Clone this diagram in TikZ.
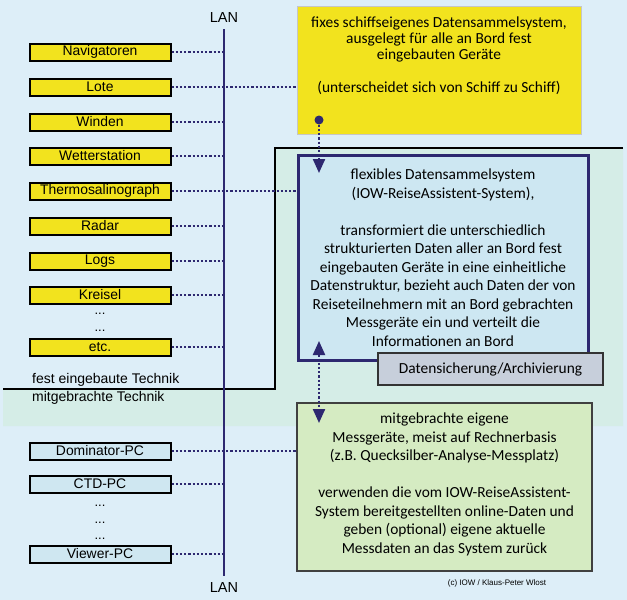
\documentclass[tikz,border=0pt]{standalone}
\usepackage{fontspec}
\setmainfont{Carlito}
\setsansfont{Liberation Sans}
\usetikzlibrary{arrows.meta,positioning,calc}

\definecolor{pagebg}{HTML}{DDEEF8}
\definecolor{tintbg}{HTML}{D5EDE7}
\definecolor{devyellow}{HTML}{F2E31E}
\definecolor{pcblue}{HTML}{CFE7F1}
\definecolor{lannavy}{HTML}{2D2870}
\definecolor{flexblue}{HTML}{CDE7F2}
\definecolor{mobgreen}{HTML}{D5EBC2}
\definecolor{archgrey}{HTML}{C7CFDB}

\begin{document}
\begin{tikzpicture}[x=1pt, y=-1pt,
  device/.style={draw=black, line width=2pt, fill=devyellow, minimum width=141pt, minimum height=17pt, inner sep=0pt, font=\sffamily\fontsize{13.9}{13.9}\selectfont},
  pc/.style={device, fill=pcblue},
  morelbl/.style={inner sep=0pt, font=\sffamily\fontsize{13}{13}\selectfont},
  sidelbl/.style={anchor=west, inner sep=0pt, font=\sffamily\fontsize{14}{14}\selectfont},
  lanlbl/.style={inner sep=0pt, font=\sffamily\fontsize{14.5}{14.5}\selectfont},
  infobox/.style={align=center, inner sep=0pt, font=\fontsize{15.4}{18.5}\selectfont},
  lanlink/.style={lannavy, line width=2.2pt, dash pattern=on 2.2pt off 2pt},
  toflex/.style={-{Triangle[length=14pt, width=12pt]}},
  bothways/.style={{Triangle[length=14pt, width=12pt]}-{Triangle[length=14pt, width=12pt]}}
]
  \useasboundingbox (0,0) rectangle (627,600);
  \fill[pagebg] (0,0) rectangle (627,600);
  % zone of the data collecting systems
  \fill[tintbg] (3,389) -- (275,389) -- (275,148) -- (623,148) -- (623,426) -- (3,426) -- cycle;
  \draw[line width=2.2pt] (3,389) -- (275,389) -- (275,148) -- (623,148);
  \node[sidelbl] (festlbl) at (32,380) {fest eingebaute Technik};
  \node[sidelbl] (mitlbl) at (32,398) {mitgebrachte Technik};

  % LAN backbone
  \node[lanlbl] (lanTop) at (224,18) {LAN};
  \node[lanlbl] (lanBot) at (224,588) {LAN};
  \draw[lannavy, line width=2.5pt, shorten <=6pt, shorten >=7pt] (lanTop.south) -- (lanBot.north);

  % built-in devices
  \foreach \y/\id/\txt in {52/nav/Navigatoren, 87/lote/Lote, 122/winden/Winden, 156/wetter/Wetterstation,
      191/thermo/Thermosalinograph, 226/radar/Radar, 261/logs/Logs, 295/kreisel/Kreisel, 347/etc/etc.}
    \node[device] (\id) at (100,\y) {\txt};
  \foreach \id in {nav, winden, wetter, radar, logs, kreisel, etc}
    \draw[lanlink] (\id.east) -- (\id.east -| lanTop);
  \node[morelbl] (moreA) at (100,314) {...};
  \node[morelbl] (moreB) at (100,331) {...};

  % brought-along devices
  \foreach \y/\id/\txt in {451/dom/Dominator-PC, 484/ctd/CTD-PC, 554/viewer/Viewer-PC}
    \node[pc] (\id) at (100,\y) {\txt};
  \foreach \id in {ctd, viewer}
    \draw[lanlink] (\id.east) -- (\id.east -| lanTop);
  \foreach \y/\id in {506/moreC, 523/moreD, 539/moreE}
    \node[morelbl] (\id) at (100,\y) {...};

  % right-hand boxes
  \node[draw=gray!45, line width=0.6pt, fill=devyellow, minimum width=284pt, minimum height=128pt] (fixbox) at (439,70) {};
  \node[infobox, font=\fontsize{15.4}{16}\selectfont, anchor=north] (fixtxt) at (439,17)
    {fixes schiffseigenes Datensammelsystem,\\ausgelegt für alle an Bord fest\\eingebauten Geräte\\[17pt](unterscheidet sich von Schiff zu Schiff)};

  \node[infobox, draw=lannavy, line width=3pt, fill=flexblue, minimum width=290pt, minimum height=205pt] (flexbox) at (443,257.5)
    {flexibles Datensammelsystem\\(IOW-ReiseAssistent-System),\\[18.5pt]transformiert die unterschiedlich\\strukturierten Daten aller an Bord fest\\eingebauten Geräte in eine einheitliche\\Datenstruktur, bezieht auch Daten der von\\Reiseteilnehmern mit an Bord gebrachten\\Messgeräte ein und verteilt die\\Informationen an Bord};
  \node[infobox, draw=black!80, line width=1.2pt, fill=archgrey, minimum width=225pt, minimum height=32pt] (archbox) at (490.5,369)
    {Datensicherung/Archivierung};

  \node[infobox, draw=black!75, line width=1.2pt, fill=mobgreen, minimum width=295pt, minimum height=168pt] (mobbox) at (444.5,487) {};
  \node[infobox, anchor=north] (mobtxt) at (444.5,413)
    {mitgebrachte eigene\\Messgeräte, meist auf Rechnerbasis\\(z.B. Quecksilber-Analyse-Messplatz)\\[18.5pt]verwenden die vom IOW-ReiseAssistent-\\System bereitgestellten online-Daten und\\geben (optional) eigene aktuelle\\Messdaten an das System zurück};

  % links into the boxes
  \draw[lanlink] (lote.east) -- (lote.east -| fixbox.west);
  \draw[lanlink] (thermo.east) -- (thermo.east -| flexbox.west);
  \draw[lanlink] (dom.east) -- (dom.east -| mobbox.west);

  \node[circle, fill=lannavy, inner sep=0pt, minimum size=9pt] (fixdot) at (319,120) {};
  \coordinate (flexin) at (319,173);
  \coordinate (flexout) at (319,341);
  \coordinate (mobin) at (319,423);
  \draw[lanlink, toflex] (fixdot) -- (flexin);
  \draw[lanlink, bothways] (flexout) -- (mobin);

  \node[inner sep=0pt, font=\sffamily\fontsize{8}{8}\selectfont] (credit) at (497,583) {(c) IOW / Klaus-Peter Wlost};
\end{tikzpicture}
\end{document}
